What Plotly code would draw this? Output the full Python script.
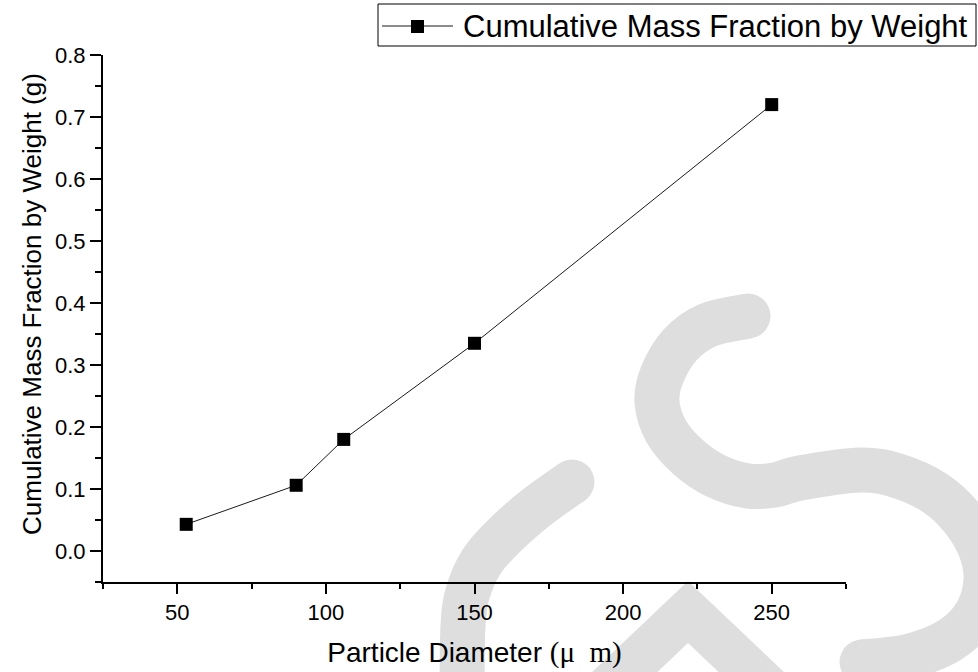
import plotly.graph_objects as go

# Sieve analysis: cumulative mass fraction versus particle diameter
particle_diameter = [53, 90, 106, 150, 250]
cumulative_mass = [0.043, 0.106, 0.18, 0.335, 0.72]
series_name = "Cumulative Mass Fraction by Weight"
x_title = "Particle Diameter "
x_unit = "(\u03bc\u00a0\u00a0m)"
y_title = "Cumulative Mass Fraction by Weight (g)"

W, H = 978, 672
L, R, T, B = 103, 132, 55, 90
PW, PH = W - L - R, H - T - B

SANS = "Liberation Sans"
SERIF = "Liberation Serif"


def px(x, y):
    """Page pixel position -> paper coordinates."""
    return (x - L) / PW, (H - B - y) / PH


def smooth_path(pts):
    """Catmull-Rom spline through pixel points, as an SVG path in paper units."""
    ext = [pts[0]] + pts + [pts[-1]]
    x0, y0 = px(*pts[0])
    d = [f"M {x0:.5f},{y0:.5f}"]
    for i in range(1, len(ext) - 2):
        p0, p1, p2, p3 = ext[i - 1], ext[i], ext[i + 1], ext[i + 2]
        c1 = (p1[0] + (p2[0] - p0[0]) / 6, p1[1] + (p2[1] - p0[1]) / 6)
        c2 = (p2[0] - (p3[0] - p1[0]) / 6, p2[1] - (p3[1] - p1[1]) / 6)
        a, b, c = px(*c1), px(*c2), px(*p2)
        d.append(f"C {a[0]:.5f},{a[1]:.5f} {b[0]:.5f},{b[1]:.5f} {c[0]:.5f},{c[1]:.5f}")
    return " ".join(d)


def poly_path(pts):
    return "M " + " L ".join("{:.5f},{:.5f}".format(*px(*p)) for p in pts)


def circle(cx, cy, r, color):
    x0, y0 = px(cx - r, cy + r)
    x1, y1 = px(cx + r, cy - r)
    return dict(type="circle", xref="paper", yref="paper",
                x0=x0, y0=y0, x1=x1, y1=y1,
                fillcolor=color, line=dict(width=0), layer="below")


def rect(xa, ya, xb, yb, **kw):
    x0, y0 = px(xa, yb)
    x1, y1 = px(xb, ya)
    return dict(type="rect", xref="paper", yref="paper",
                x0=x0, y0=y0, x1=x1, y1=y1, **kw)


fig = go.Figure()

fig.add_trace(go.Scatter(
    x=particle_diameter,
    y=cumulative_mass,
    mode="lines+markers",
    name=series_name,
    showlegend=False,
    line=dict(color="#1a1a1a", width=1),
    marker=dict(symbol="square", size=13, color="black", line=dict(width=0)),
))

# light grey logo strokes in the background
logo_color = "#dedede"
stroke_w = 45
s_stroke = [(748, 316), (708, 325), (680, 345), (662, 375), (657, 402), (666, 431),
            (688, 457), (716, 476), (748, 486), (775, 485), (800, 478), (860, 470),
            (898, 476), (935, 493), (962, 518), (980, 548), (986, 580), (976, 614),
            (950, 640), (910, 656), (862, 662)]
arc_stroke = [(572, 482), (537, 507), (506, 534), (482, 561), (468, 592), (463, 626),
              (462, 700)]
caret_stroke = [(590, 705), (688, 612), (786, 705)]

shapes = [
    dict(type="path", xref="paper", yref="paper", path=smooth_path(s_stroke),
         line=dict(color=logo_color, width=stroke_w), layer="below"),
    dict(type="path", xref="paper", yref="paper", path=smooth_path(arc_stroke),
         line=dict(color=logo_color, width=stroke_w), layer="below"),
    dict(type="path", xref="paper", yref="paper", path=poly_path(caret_stroke),
         line=dict(color=logo_color, width=stroke_w), layer="below"),
]
# rounded stroke ends
for cx, cy in [s_stroke[0], s_stroke[-1], arc_stroke[0]]:
    shapes.append(circle(cx, cy, stroke_w / 2, logo_color))

# legend box with its line-and-square key
shapes.append(rect(378, 4, 976, 46, line=dict(color="black", width=1),
                   fillcolor="white", layer="above"))
lx0, ly0 = px(382, 26)
lx1, _ = px(453, 26)
shapes.append(dict(type="line", xref="paper", yref="paper",
                   x0=lx0, y0=ly0, x1=lx1, y1=ly0,
                   line=dict(color="#1a1a1a", width=1), layer="above"))
shapes.append(rect(411, 20, 424, 33, fillcolor="black",
                   line=dict(width=0), layer="above"))

tx, ty = px(461, 26)
yx, yy = px(32, 304)
annotations = [
    dict(text=series_name, xref="paper", yref="paper", x=tx, y=ty,
         xanchor="left", yanchor="middle", showarrow=False,
         font=dict(family=SANS, size=31, color="black")),
    dict(text=y_title, xref="paper", yref="paper", x=yx, y=yy,
         xanchor="center", yanchor="middle", textangle=-90, showarrow=False,
         font=dict(family=SANS, size=26, color="black")),
]

fig.update_layout(
    width=W, height=H,
    margin=dict(l=L, r=R, t=T, b=B, autoexpand=False),
    paper_bgcolor="white", plot_bgcolor="white",
    font=dict(family=SANS, color="black"),
    shapes=shapes,
    annotations=annotations,
    showlegend=False,
    xaxis=dict(
        range=[25, 275], tick0=0, dtick=50,
        showgrid=False, zeroline=False,
        showline=True, linecolor="black", linewidth=2,
        ticks="outside", ticklen=10, tickwidth=2, tickcolor="black",
        minor=dict(dtick=25, tick0=0, ticks="outside", ticklen=5,
                   tickwidth=2, tickcolor="black"),
        tickfont=dict(family=SANS, size=22, color="black"),
        title=dict(
            text=(x_title +
                  f"<span style=\"font-family:{SERIF};font-size:29px\">{x_unit}</span>"),
            font=dict(family=SANS, size=28, color="black"),
            standoff=18,
        ),
    ),
    yaxis=dict(
        range=[-0.05, 0.8], tick0=0, dtick=0.1, tickformat=".1f",
        showgrid=False, zeroline=False,
        showline=True, linecolor="black", linewidth=2,
        ticks="outside", ticklen=11, tickwidth=2, tickcolor="black",
        minor=dict(dtick=0.05, tick0=0, ticks="outside", ticklen=6,
                   tickwidth=2, tickcolor="black"),
        tickfont=dict(family=SANS, size=22, color="black"),
    ),
)

fig.write_html("out.html")
